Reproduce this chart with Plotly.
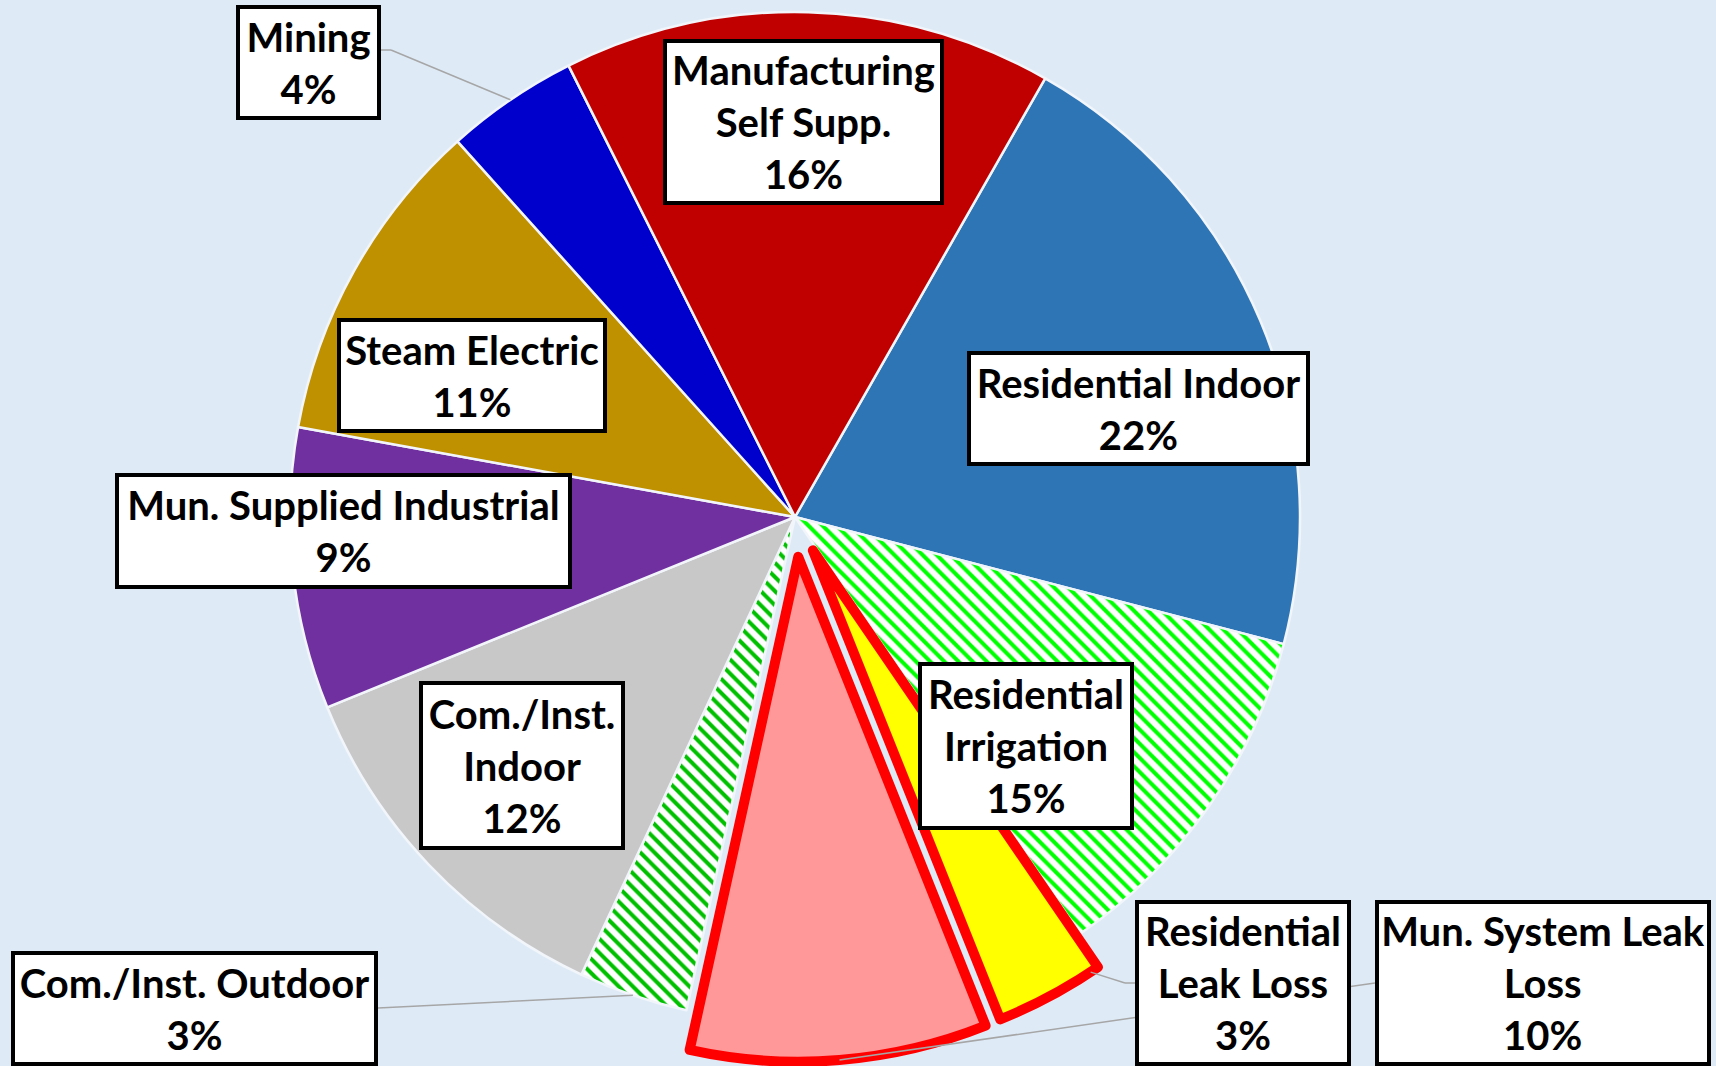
import math
import plotly.graph_objects as go

# ---------------- data ----------------
categories = ["Residential Indoor", "Residential Irrigation", "Residential Leak Loss",
              "Mun. System Leak Loss", "Com./Inst. Outdoor", "Com./Inst. Indoor",
              "Mun. Supplied Industrial", "Steam Electric", "Mining",
              "Manufacturing Self Supp."]
values = [20.8, 11.4, 3.5, 9.5, 3.5, 11.9, 9.0, 10.5, 4.25, 15.65]
label_names = ["Residential Indoor", "Residential<br>Irrigation", "Residential<br>Leak Loss",
               "Mun. System Leak<br>Loss", "Com./Inst. Outdoor", "Com./Inst.<br>Indoor",
               "Mun. Supplied Industrial", "Steam Electric", "Mining",
               "Manufacturing<br>Self Supp."]
label_pcts = ["22%", "15%", "3%", "10%", "3%", "12%", "9%", "11%", "4%", "16%"]

# ---------------- style / layout ----------------
W, H = 1716, 1066
CX, CY, R = 795, 517, 505
START = 29.7
colors = ["#2E75B6", "#FFFFFF", "#FFFF00", "#FF9999", "#FFFFFF", "#C8C8C8",
          "#7030A0", "#BF9000", "#0000CC", "#C00000"]
pattern_shapes = ["", "\\", "", "", "\\", "", "", "", "", ""]
pattern_fg = ["#000000", "#00FF00", "#000000", "#000000", "#00C000", "#000000",
              "#000000", "#000000", "#000000", "#000000"]
pulls = [0, 0, 0.075, 0.079, 0, 0, 0, 0, 0, 0]
BG = "#DEEBF7"
BW = 4

# label boxes (outer px: cx, cy, w, h)
boxes = [
    (1138.5, 408.5, 343, 115),
    (1026, 746, 216, 168),
    (1243, 983, 216, 166),
    (1543, 983, 336, 166),
    (194.5, 1008.5, 367, 115),
    (522, 765.5, 206, 169),
    (343.5, 531, 457, 116),
    (472, 375.5, 270, 115),
    (308.5, 62.5, 145, 115),
    (803.5, 122, 281, 166),
]

total = sum(values)
bounds = [START]
for v in values:
    bounds.append(bounds[-1] + 360.0 * v / total)


def pull_offset(i):
    m = math.radians((bounds[i] + bounds[i + 1]) / 2)
    d = pulls[i] * R
    return d * math.sin(m), -d * math.cos(m)


def arc_point(i, ang):
    dx, dy = pull_offset(i)
    a = math.radians(ang)
    return CX + dx + R * math.sin(a), CY + dy - R * math.cos(a)


def px2paper(x, y):
    return x / W, 1 - y / H


def domain(dx=0.0, dy=0.0):
    return dict(x=[(CX - R + dx) / W, (CX + R + dx) / W],
                y=[1 - (CY + R + dy) / H, 1 - (CY - R + dy) / H])


transparent = "rgba(0,0,0,0)"
main_colors = [transparent if p > 0 else c for c, p in zip(colors, pulls)]
main_lw = [0 if p > 0 else 2.5 for p in pulls]

fig = go.Figure()
fig.add_trace(go.Pie(
    labels=categories, values=values, sort=False, direction="clockwise",
    rotation=START, textinfo="none", hoverinfo="skip", showlegend=False,
    domain=domain(),
    marker=dict(colors=main_colors,
                line=dict(color="#F2F6FB", width=main_lw),
                pattern=dict(shape=pattern_shapes, fgcolor=pattern_fg,
                             bgcolor="#FFFFFF", size=10, solidity=0.4,
                             fillmode="replace")),
))

for i, p in enumerate(pulls):
    if p <= 0:
        continue
    dx, dy = pull_offset(i)
    cols = [colors[j] if j == i else transparent for j in range(len(values))]
    lws = [10 if j == i else 0 for j in range(len(values))]
    fig.add_trace(go.Pie(
        labels=categories, values=values, sort=False, direction="clockwise",
        rotation=START, textinfo="none", hoverinfo="skip", showlegend=False,
        domain=domain(dx, dy),
        marker=dict(colors=cols, line=dict(color="#FF0000", width=lws)),
    ))

# leader lines
leaders = [
    [(381, 50), (391, 50), arc_point(8, (bounds[8] + bounds[9]) / 2)],
    [(378, 1008), arc_point(4, (bounds[4] + bounds[5]) / 2)],
    [(1135, 983), (1125, 983), arc_point(2, bounds[2] + 1.0)],
    [(1375, 983), arc_point(3, (bounds[3] + bounds[4]) / 2)],
]
shapes = []
for pts in leaders:
    for (x0, y0), (x1, y1) in zip(pts[:-1], pts[1:]):
        a0 = px2paper(x0, y0)
        a1 = px2paper(x1, y1)
        shapes.append(dict(type="line", xref="paper", yref="paper",
                           x0=a0[0], y0=a0[1], x1=a1[0], y1=a1[1],
                           line=dict(color="#A6A6A6", width=1.5)))

annotations = []
for name, pct, (bx, by, bw, bh) in zip(label_names, label_pcts, boxes):
    px, py = px2paper(bx, by)
    annotations.append(dict(
        x=px, y=py, xref="paper", yref="paper", xanchor="center", yanchor="middle",
        text=f"{name}<br>{pct}", showarrow=False,
        width=bw - 2 * BW, height=bh - 2 * BW,
        bgcolor="white", bordercolor="black", borderwidth=BW, borderpad=0,
        align="center", valign="middle",
        font=dict(family="Lato", size=40, color="black", weight="bold"),
    ))

fig.update_layout(
    width=W, height=H, margin=dict(l=0, r=0, t=0, b=0),
    paper_bgcolor=BG, plot_bgcolor=BG,
    shapes=shapes, annotations=annotations, showlegend=False,
)

fig.write_html(
    "out.html",
    config={"displayModeBar": False},
    post_script=(
        "document.body.style.margin='0';"
        "document.body.style.background='" + BG + "';"
        "document.querySelectorAll('path.surface').forEach(function(p){"
        "p.style.strokeLinejoin='round';});"
    ),
)
